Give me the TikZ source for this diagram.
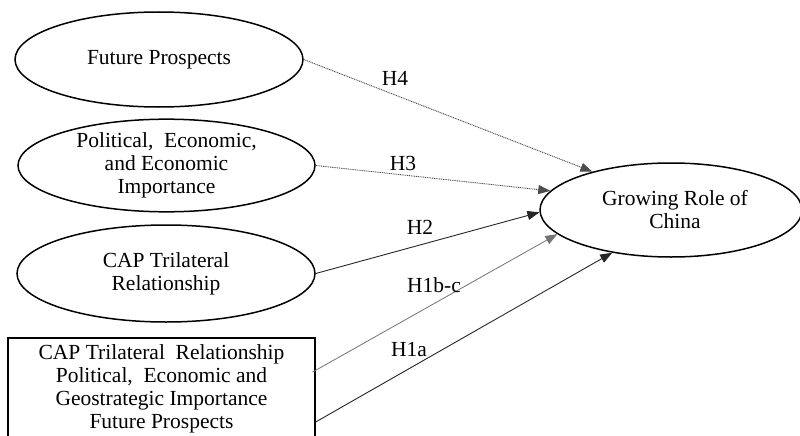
\documentclass[tikz,border=0pt]{standalone}
\usepackage{fontspec}
\setmainfont{Liberation Serif}
\usetikzlibrary{shapes.geometric,arrows.meta}
\begin{document}
\begin{tikzpicture}[x=1pt,y=-1pt,
  txt/.style={font=\fontsize{21.5}{23}\selectfont, align=center},
  oval/.style={ellipse, draw=black, line width=1.5pt, inner sep=0pt, txt},
  boxnode/.style={rectangle, draw=black, line width=1.3pt, inner sep=0pt, txt},
  lab/.style={txt, inner sep=0pt},
  tip/.style={-{Triangle[length=12pt,width=9pt]}},
  solidlink/.style={tip, draw=black!85, line width=0.9pt},
  dotlink/.style={tip, draw=black!70, line width=0.9pt, dash pattern=on 1pt off 0.8pt},
  greylink/.style={tip, draw=black!55, line width=0.8pt}]
\useasboundingbox (0,0) rectangle (800,436);
\clip (0,0) rectangle (800,436);
\node[oval, minimum width=288pt, minimum height=95pt] (fp) at (159,59.5) {Future Prospects};
\node[oval, minimum width=297pt, minimum height=85pt] (pe) at (166.5,165.5) {Political,\ \ Economic,\\and Economic\\Importance};
\node[oval, minimum width=298pt, minimum height=97pt] (cap) at (166,273.5) {CAP Trilateral\\Relationship};
\node[boxnode, minimum width=307pt, minimum height=101pt] (all) at (161.5,388.5) {CAP Trilateral\ \ Relationship\\Political,\ \ Economic and\\Geostrategic Importance\\Future Prospects};
\node[oval, minimum width=262pt, minimum height=94pt] (china) at (671,210) {\hspace*{8pt}Growing Role of\\\hspace*{8pt}China};
\draw[dotlink] (fp.east) -- (china.154);
\draw[dotlink] (pe.east) -- (china.171);
\draw[solidlink] (cap.east) -- (china.181);
\draw[greylink] ([yshift=16.5pt,xshift=-3pt]all.east) -- (china.192);
\draw[solidlink] ([yshift=-33.5pt]all.east) -- (china.216);
\node[lab] (h4) at (395,78) {H4};
\node[lab] (h3) at (403,163) {H3};
\node[lab] (h2) at (420,227) {H2};
\node[lab] (h1bc) at (434,285) {H1b-c};
\node[lab] (h1a) at (409,350) {H1a};
\end{tikzpicture}
\end{document}
